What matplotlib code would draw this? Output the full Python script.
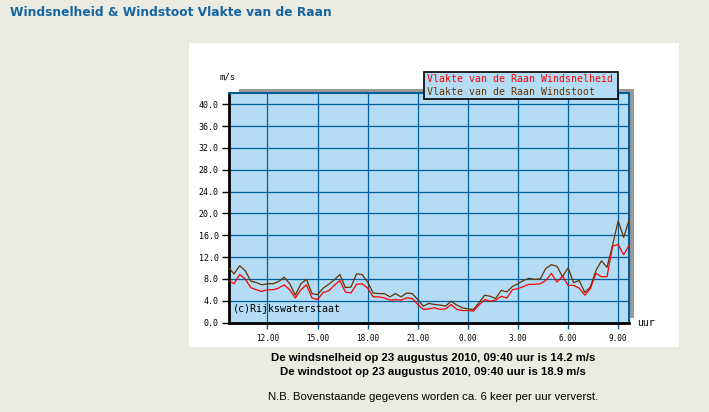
import numpy as np
from matplotlib import pyplot as plt
from matplotlib.patches import Rectangle

# metingen elke 20 minuten, van 22 aug 09:40 tot 23 aug 09:40 (m/s)
windstoot = [10.1, 8.9, 10.4, 9.5, 7.6, 7.3, 6.9, 7.1, 7.1, 7.5,
             8.3, 7.1, 5.0, 7.1, 7.9, 5.3, 5.1, 6.3, 7.0, 7.8,
             8.8, 6.4, 6.5, 8.9, 8.8, 7.4, 5.4, 5.3, 5.3, 4.7,
             5.3, 4.7, 5.4, 5.3, 4.2, 3.0, 3.5, 3.3, 3.2, 3.0,
             3.9, 3.2, 2.7, 2.5, 2.4, 3.6, 5.0, 4.8, 4.4, 5.9,
             5.6, 6.6, 7.1, 7.7, 8.1, 7.9, 8.0, 9.9, 10.6, 10.3,
             8.4, 10.0, 7.3, 7.7, 5.5, 6.5, 9.5, 11.3, 10.1, 14.2,
             18.6, 15.6, 18.9]
windsnelheid = [7.7, 7.1, 8.8, 8.0, 6.4, 6.0, 5.7, 6.0, 6.0, 6.3,
                6.9, 6.0, 4.5, 6.0, 6.9, 4.5, 4.2, 5.5, 5.8, 6.8,
                7.7, 5.6, 5.4, 7.0, 7.1, 6.3, 4.7, 4.7, 4.5, 4.1,
                4.2, 4.1, 4.5, 4.4, 3.3, 2.4, 2.5, 2.7, 2.4, 2.5,
                3.3, 2.4, 2.2, 2.2, 2.1, 3.2, 4.2, 3.9, 4.1, 4.8,
                4.5, 6.0, 6.2, 6.6, 7.0, 7.0, 7.1, 7.7, 9.0, 7.4,
                8.5, 6.8, 6.8, 6.3, 5.0, 6.2, 9.0, 8.4, 8.4, 14.0,
                14.3, 12.4, 14.2]
uren = np.arange(len(windsnelheid)) / 3.0  # uren na 09:40

xtick_labels = ['12.00', '15.00', '18.00', '21.00', '0.00', '3.00', '6.00', '9.00']
xtick_pos = [2 + 1/3 + 3 * i for i in range(len(xtick_labels))]
yticks = [0, 4, 8, 12, 16, 20, 24, 28, 32, 36, 40]

W, H = 709, 412


def fx(x):
    return x / W


def fy(y):
    return 1 - y / H


fig = plt.figure(figsize=(W / 100, H / 100), dpi=100)
fig.patch.set_facecolor('#ecebe2')

# witte achtergrond van de grafiek
fig.patches.append(Rectangle((fx(189), fy(347)), fx(679) - fx(189), fy(43) - fy(347),
                             transform=fig.transFigure, facecolor='white', edgecolor='none', zorder=-3))
# schaduw
fig.patches.append(Rectangle((fx(239), fy(318)), fx(634) - fx(239), fy(89) - fy(318),
                             transform=fig.transFigure, facecolor='#999999', edgecolor='none', zorder=-2))

ax = fig.add_axes([fx(228.5), fy(322.5), fx(629.3) - fx(228.5), fy(93.3) - fy(322.5)])
ax.set_zorder(1)
ax.set_facecolor('#b4dcf4')
ax.set_xlim(0, 24)
ax.set_ylim(0, 42)

blauw = '#005f99'
ax.set_xticks(xtick_pos)
ax.set_xticklabels(xtick_labels, fontsize=5.5, family='DejaVu Sans Mono')
ax.set_yticks(yticks)
ax.set_yticklabels(['%.1f' % v for v in yticks], fontsize=6, family='DejaVu Sans Mono')
ax.tick_params(axis='x', length=4, width=1, color=blauw, pad=4)
ax.tick_params(axis='y', length=5, width=1, color='black', pad=2)
ax.grid(True, color=blauw, linewidth=0.9)
ax.set_axisbelow(True)

for s in ['left', 'bottom']:
    ax.spines[s].set_color('black')
    ax.spines[s].set_linewidth(2)
for s in ['top', 'right']:
    ax.spines[s].set_color(blauw)
    ax.spines[s].set_linewidth(1.5)

ax.plot(uren, windstoot, color='#663300', linewidth=0.9, zorder=3)
ax.plot(uren, windsnelheid, color='#ff0000', linewidth=0.9, zorder=4)

ax.text(0.01, 0.035, '(c)Rijkswaterstaat', transform=ax.transAxes, fontsize=7.2,
        family='DejaVu Sans Mono', color='black', va='bottom', ha='left')

# legenda
fig.patches.append(Rectangle((fx(424), fy(99)), fx(618) - fx(424), fy(72) - fy(99),
                             transform=fig.transFigure, facecolor='#b4dcf4', edgecolor='black',
                             linewidth=1.2, zorder=5))
fig.text(fx(427), fy(79.5), 'Vlakte van de Raan Windsnelheid', color='#ff0000', fontsize=7.1,
         family='DejaVu Sans Mono', va='center', ha='left', zorder=6)
fig.text(fx(427), fy(92), 'Vlakte van de Raan Windstoot', color='#663300', fontsize=7.1,
         family='DejaVu Sans Mono', va='center', ha='left', zorder=6)

fig.text(fx(220), fy(77), 'm/s', fontsize=6.5, family='DejaVu Sans Mono', va='center', ha='left')
fig.text(fx(637), fy(323), 'uur', fontsize=7, family='DejaVu Sans Mono', va='center', ha='left')

fig.text(fx(10), fy(12), 'Windsnelheid & Windstoot Vlakte van de Raan', fontsize=8.8,
         fontweight='bold', color='#1565a0', family='DejaVu Sans', va='center', ha='left')

fig.text(fx(433), fy(358), 'De windsnelheid op 23 augustus 2010, 09:40 uur is 14.2 m/s',
         fontsize=8.2, fontweight='bold', family='Liberation Sans', va='center', ha='center')
fig.text(fx(433), fy(372), 'De windstoot op 23 augustus 2010, 09:40 uur is 18.9 m/s',
         fontsize=8.2, fontweight='bold', family='Liberation Sans', va='center', ha='center')
fig.text(fx(433), fy(397), 'N.B. Bovenstaande gegevens worden ca. 6 keer per uur ververst.',
         fontsize=8.2, family='Liberation Sans', va='center', ha='center')

fig.savefig('out.png', dpi=100, facecolor=fig.get_facecolor())
